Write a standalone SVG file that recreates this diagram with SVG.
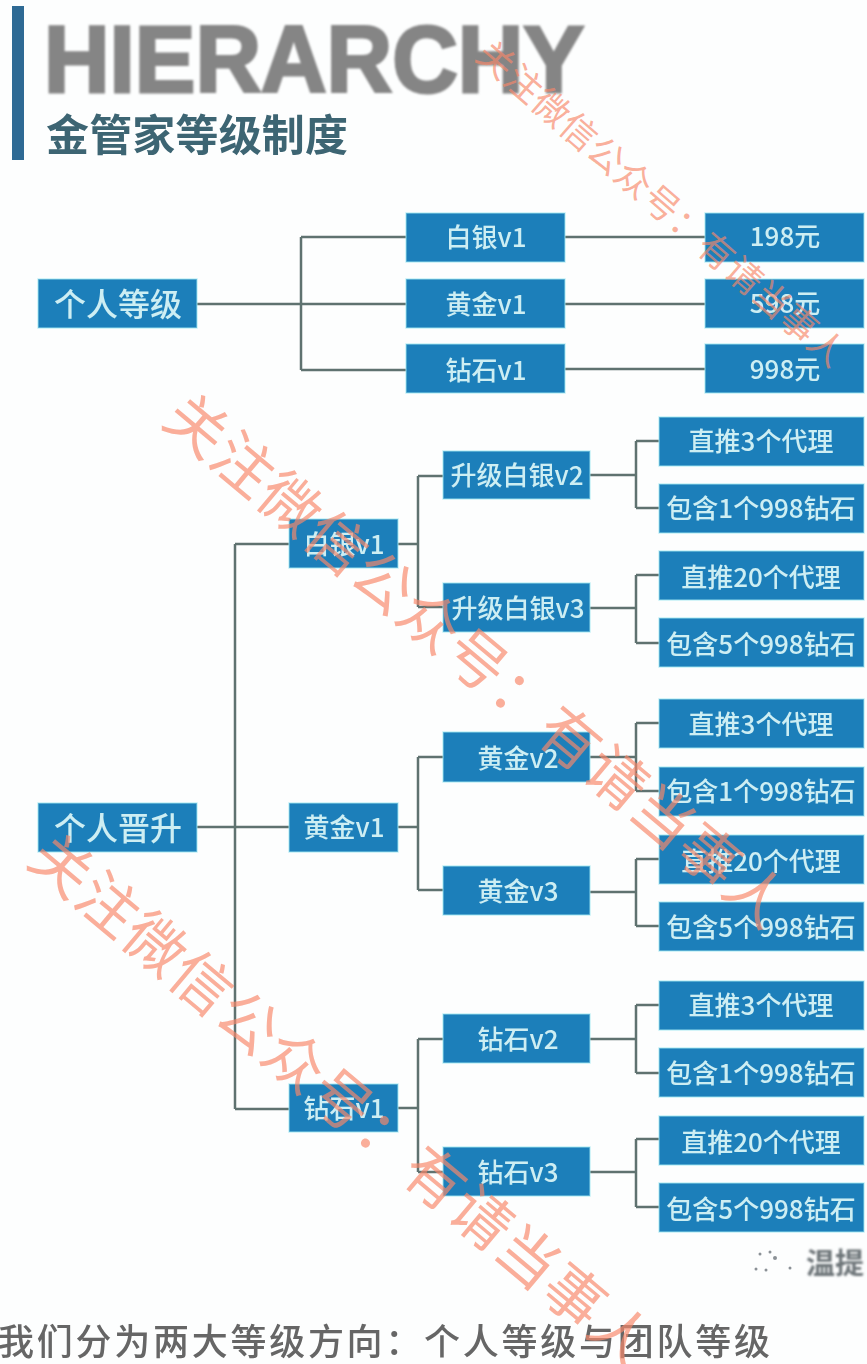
<svg xmlns="http://www.w3.org/2000/svg" width="867" height="1364" viewBox="0 0 867 1364">
<defs>
<filter id="b" x="-10%" y="-30%" width="120%" height="160%"><feGaussianBlur stdDeviation="0.8"/></filter>
<filter id="t" x="-10%" y="-30%" width="120%" height="160%"><feGaussianBlur stdDeviation="0.6"/></filter>
</defs>
<style>
text{font-family:"Noto Sans CJK SC","Liberation Sans",sans-serif}
.n rect{fill:#1e7fba;stroke:#9fe6f0;stroke-width:1.5;stroke-opacity:.6;filter:url(#t)}
.n text{fill:#cdeef3;font-size:26px;text-anchor:middle;font-weight:500;filter:url(#t)}
.c path{fill:none;stroke:#5e7270;stroke-width:2.5}
.w{fill:#f8886a;fill-opacity:.68;font-weight:400}
</style>
<rect width="867" height="1364" fill="#fdfefe"/>
<g id="header">
<rect x="12" y="6" width="12" height="154" fill="#2f6b94" filter="url(#t)"/>
<text x="44" y="92" font-size="95" font-weight="700" fill="#858585" stroke="#858585" stroke-width="3" textLength="540" lengthAdjust="spacingAndGlyphs" style="font-family:'Liberation Sans',sans-serif" filter="url(#b)">HIERARCHY</text>
<text x="46" y="151" font-size="43" font-weight="700" fill="#3d6573" textLength="302" filter="url(#t)">金管家等级制度</text>
</g>
<g class="c" id="connectors" filter="url(#t)">
<path d="M197 304H406M301 237V370M301 237H406M301 370H406M565 237H705M565 304H705M565 369H705"/>
<path d="M197 827H289M235 544V1109M235 544H289M235 1109H289"/>
<path d="M398 544H418M418 476V607M418 476H443M418 607H443"/>
<path d="M398 827H418M418 757V890M418 757H443M418 890H443"/>
<path d="M398 1108H418M418 1039V1172M418 1039H443M418 1172H443"/>
<path d="M590 475H636M636 441V508M636 441H659M636 508H659"/>
<path d="M590 608H636M636 575V643M636 575H659M636 643H659"/>
<path d="M590 757H636M636 723V791M636 723H659M636 791H659"/>
<path d="M590 892H636M636 859V926M636 859H659M636 926H659"/>
<path d="M590 1039H636M636 1005V1073M636 1005H659M636 1073H659"/>
<path d="M590 1172H636M636 1139V1207M636 1139H659M636 1207H659"/>
</g>
<g id="n1" class="n"><rect x="38" y="279" width="159" height="49"/><text x="118" y="316" style="font-size:32px">个人等级</text></g>
<g id="n2" class="n"><rect x="406" y="213" width="159" height="49"/><text x="486" y="247">白银v1</text></g>
<g id="n3" class="n"><rect x="406" y="279" width="159" height="49"/><text x="486" y="314">黄金v1</text></g>
<g id="n4" class="n"><rect x="406" y="344" width="159" height="49"/><text x="486" y="380">钻石v1</text></g>
<g id="n5" class="n"><rect x="705" y="213" width="159" height="49"/><text x="785" y="246">198元</text></g>
<g id="n6" class="n"><rect x="705" y="279" width="159" height="49"/><text x="785" y="313">598元</text></g>
<g id="n7" class="n"><rect x="705" y="344" width="159" height="49"/><text x="785" y="379">998元</text></g>
<g id="n8" class="n"><rect x="38" y="803" width="159" height="49"/><text x="118" y="840" style="font-size:32px">个人晋升</text></g>
<g id="n9" class="n"><rect x="289" y="519" width="109" height="49"/><text x="344" y="554">白银v1</text></g>
<g id="n10" class="n"><rect x="289" y="803" width="109" height="49"/><text x="344" y="837">黄金v1</text></g>
<g id="n11" class="n"><rect x="289" y="1084" width="109" height="48"/><text x="344" y="1118">钻石v1</text></g>
<g id="n12" class="n"><rect x="443" y="451" width="147" height="48"/><text x="517" y="485">升级白银v2</text></g>
<g id="n13" class="n"><rect x="443" y="583" width="147" height="49"/><text x="518" y="618">升级白银v3</text></g>
<g id="n14" class="n"><rect x="443" y="732" width="147" height="50"/><text x="518" y="768">黄金v2</text></g>
<g id="n15" class="n"><rect x="443" y="866" width="147" height="49"/><text x="518" y="901">黄金v3</text></g>
<g id="n16" class="n"><rect x="443" y="1014" width="147" height="49"/><text x="518" y="1049">钻石v2</text></g>
<g id="n17" class="n"><rect x="443" y="1147" width="147" height="49"/><text x="518" y="1182">钻石v3</text></g>
<g id="n18" class="n"><rect x="659" y="417" width="205" height="49"/><text x="761" y="451">直推3个代理</text></g>
<g id="n19" class="n"><rect x="659" y="484" width="205" height="49"/><text x="761" y="518">包含1个998钻石</text></g>
<g id="n20" class="n"><rect x="659" y="551" width="205" height="49"/><text x="761" y="587">直推20个代理</text></g>
<g id="n21" class="n"><rect x="659" y="618" width="205" height="49"/><text x="761" y="654">包含5个998钻石</text></g>
<g id="n22" class="n"><rect x="659" y="699" width="205" height="49"/><text x="761" y="734">直推3个代理</text></g>
<g id="n23" class="n"><rect x="659" y="767" width="205" height="49"/><text x="761" y="801">包含1个998钻石</text></g>
<g id="n24" class="n"><rect x="659" y="835" width="205" height="49"/><text x="761" y="871">直推20个代理</text></g>
<g id="n25" class="n"><rect x="659" y="902" width="205" height="49"/><text x="761" y="937">包含5个998钻石</text></g>
<g id="n26" class="n"><rect x="659" y="981" width="205" height="49"/><text x="761" y="1015">直推3个代理</text></g>
<g id="n27" class="n"><rect x="659" y="1048" width="205" height="49"/><text x="761" y="1083">包含1个998钻石</text></g>
<g id="n28" class="n"><rect x="659" y="1116" width="205" height="49"/><text x="761" y="1152">直推20个代理</text></g>
<g id="n29" class="n"><rect x="659" y="1183" width="205" height="49"/><text x="761" y="1219">包含5个998钻石</text></g>
<g fill="#8b9196" filter="url(#t)"><circle cx="760" cy="1254" r="1.5"/><circle cx="770" cy="1252" r="1.5"/><circle cx="775" cy="1258" r="2"/><circle cx="756" cy="1269" r="1.5"/><circle cx="766" cy="1270" r="1.5"/><circle cx="790" cy="1268" r="1.5"/></g>
<text x="806" y="1274" font-size="29" font-weight="700" fill="#6d7478" filter="url(#b)">温提</text>
<text x="-2" y="1355" font-size="36" font-weight="500" fill="#666" textLength="772" filter="url(#t)">我们分为两大等级方向：个人等级与团队等级</text>
<g id="watermarks">
<text class="w" transform="translate(474 58) rotate(41)" font-size="36" textLength="474">关注微信公众号：有请当事人</text>
<text class="w" transform="translate(160 423) rotate(40)" font-size="60" textLength="790">关注微信公众号：有请当事人</text>
<text class="w" transform="translate(25 863) rotate(40)" font-size="60" textLength="790">关注微信公众号：有请当事人</text>
</g>
</svg>
